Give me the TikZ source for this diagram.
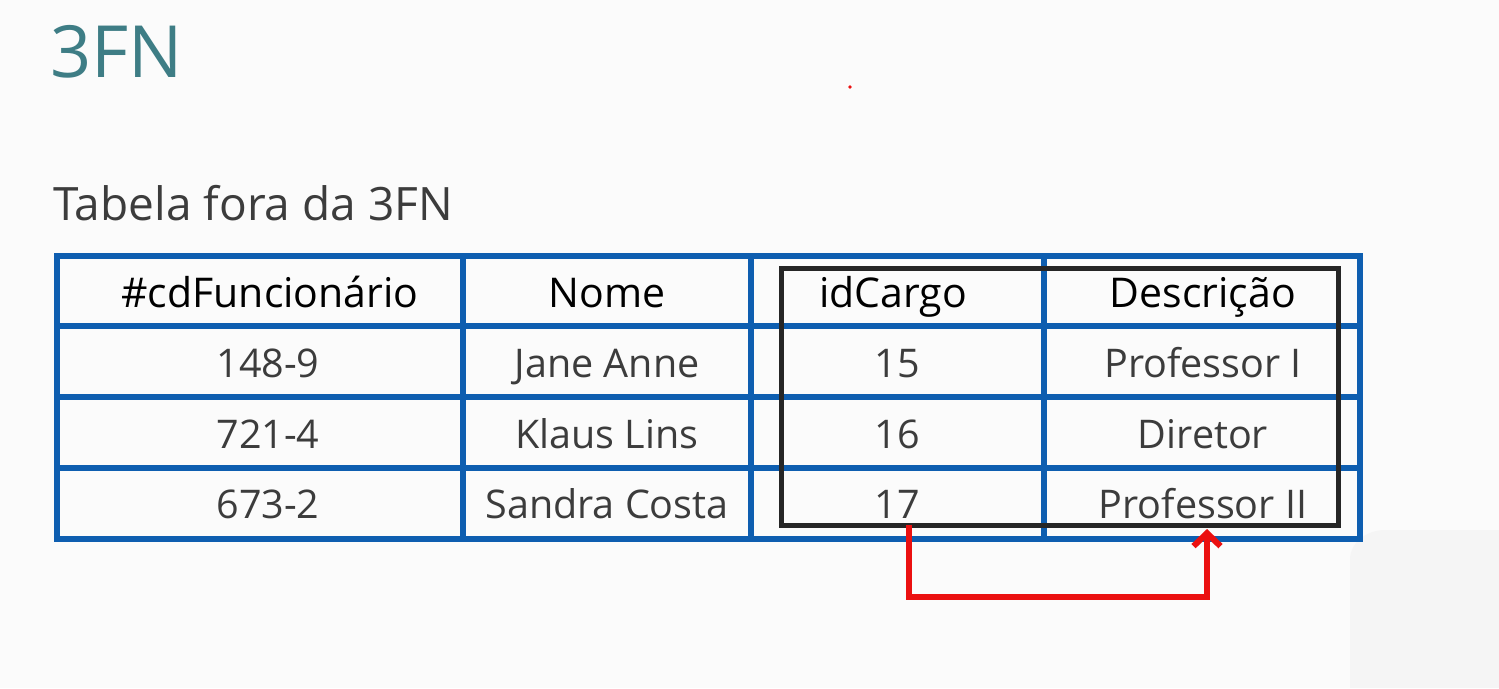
\documentclass[tikz,border=0pt]{standalone}
\usepackage{fontspec}
\setmainfont{Open Sans}
\usepackage{tikz}
\usetikzlibrary{positioning,arrows.meta,calc}
\definecolor{tealtitle}{RGB}{62,125,133}
\definecolor{gridblue}{RGB}{14,94,176}
\definecolor{arrowred}{RGB}{235,16,16}
\definecolor{textgray}{RGB}{60,60,60}
\tikzset{cell/.style = {anchor=base,inner sep=0pt,text=textgray,font=\fontsize{39.5}{42}\selectfont},
         head/.style = {cell,text=black,font=\fontsize{41}{44}\selectfont}}

\begin{document}
\begin{tikzpicture}[x=1pt,y=-1pt]
        \useasboundingbox[fill={rgb,255:red,251;green,251;blue,251}] (0,0) rectangle (1499,688);
        \fill[gray!8] (1350,688) -- (1350,560) to[out=90,in=180] (1385,530) -- (1499,530) -- (1499,688) -- cycle;
        \fill[arrowred] (850,87) circle (1.8);
        \node [anchor=base west,inner sep=0pt,text=tealtitle,font=\fontsize{72}{80}\selectfont] (T) at (50,77) {3FN};
        \node [anchor=base west,inner sep=0pt,text=textgray,font=\fontsize{46}{50}\selectfont] (S) at (53,220) {Tabela fora da 3FN};
        % header
        \node [head] (h1) at (270,307) {\#cdFuncionário};
        \node [head] (h2) at (607,307) {Nome};
        \node [head] (h3) at (893,307) {idCargo};
        \node [head] (h4) at (1203,307) {Descrição};
        % rows
        \node [cell] (a1) at (268,377) {148-9};
        \node [cell] (a2) at (607,377) {Jane Anne};
        \node [cell] (a3) at (897,377) {15};
        \node [cell] (a4) at (1203,377) {Professor I};
        \node [cell] (b1) at (268,448) {721-4};
        \node [cell] (b2) at (607,448) {Klaus Lins};
        \node [cell] (b3) at (897,448) {16};
        \node [cell] (b4) at (1203,448) {Diretor};
        \node [cell] (c1) at (268,518) {673-2};
        \node [cell] (c2) at (607,518) {Sandra Costa};
        \node [cell] (c3) at (897,518) {17};
        \node [cell] (c4) at (1203,518) {Professor II};
        % grid
        \draw [gridblue,line width=6.5pt] (57,256) rectangle (1360,539);
        \foreach \y in {326,397,468} \draw [gridblue,line width=6pt] (57,\y) -- (1360,\y);
        \foreach \x in {463,751,1044} \draw [gridblue,line width=6pt] (\x,256) -- (\x,539);
        % dependency box
        \coordinate (boxTL) at (781,268);
        \coordinate (boxBR) at (1338,525);
        \draw [black!85,line width=5pt] (boxTL) rectangle (boxBR);
        \coordinate (from) at (c3 |- boxBR);
        \coordinate (to) at ($(c4 |- boxBR)+(4,4)$);
        \draw [arrowred,line width=6pt,-{Straight Barb[length=13pt,width=27pt]}] ($(from)+(12,0)$) -- ++(0,72) -| (to);
    \end{tikzpicture}
\end{document}
